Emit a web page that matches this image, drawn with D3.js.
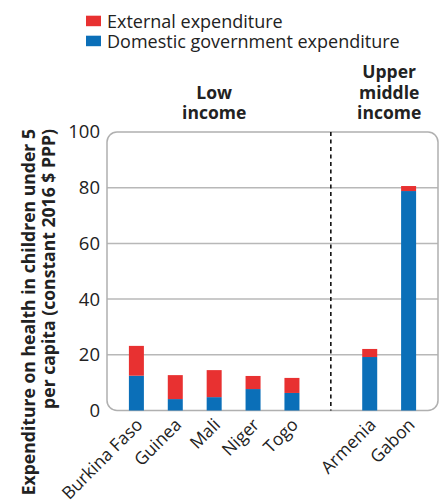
<!DOCTYPE html>
<html>
<head>
<meta charset="utf-8">
<script src="https://cdn.jsdelivr.net/npm/d3@7"></script>
<style>
  body { margin: 0; background: #fff; }
  svg text { font-family: "Open Sans", "Lato", sans-serif; fill: #222; }
</style>
</head>
<body>
<svg id="chart" width="445" height="500"></svg>
<script>
// data
var countries = ["Burkina Faso", "Guinea", "Mali", "Niger", "Togo", "", "Armenia", "Gabon"];
var domestic = [12.5, 4.1, 4.8, 7.7, 6.3, null, 19.2, 78.8];
var external = [10.7, 8.6, 9.7, 4.7, 5.4, null, 2.9, 1.8];
var yTicks = [0, 20, 40, 60, 80, 100];
var groupLabels = [["Low", "income"], ["Upper", "middle", "income"]];

var red = "#e83131";
var blue = "#0b6fb8";

var svg = d3.select("#chart");
var plotL = 107, plotR = 438, plotT = 132, plotB = 410.5;

var x = d3.scalePoint()
  .domain(countries.map(function(d) { return d === "" ? "_gap" : d; }))
  .range([plotL, plotR])
  .padding(0.756);

var y = d3.scaleLinear().domain([0, 100]).range([plotB, plotT]);

// grid lines
svg.append("g").selectAll("line")
  .data(yTicks.filter(function(t) { return t > 0 && t < 100; }))
  .enter().append("line")
  .attr("x1", plotL).attr("x2", plotR)
  .attr("y1", function(d) { return y(d); })
  .attr("y2", function(d) { return y(d); })
  .attr("stroke", "#b8b8b8")
  .attr("stroke-width", 1.5);

// frame with rounded corners
svg.append("rect")
  .attr("x", plotL).attr("y", plotT)
  .attr("width", plotR - plotL).attr("height", plotB - plotT)
  .attr("rx", 10).attr("ry", 10)
  .attr("fill", "none")
  .attr("stroke", "#b0b0b0")
  .attr("stroke-width", 1.5);

// y tick labels
svg.append("g").selectAll("text")
  .data(yTicks)
  .enter().append("text")
  .attr("x", plotL - 7)
  .attr("y", function(d) { return y(d); })
  .attr("dy", "0.35em")
  .attr("text-anchor", "end")
  .style("font-size", "18.5px")
  .text(function(d) { return d; });

// bars
var rows = countries.map(function(c, i) {
  return { name: c, dom: domestic[i], ext: external[i] };
}).filter(function(d) { return d.name !== ""; });

var bw = 15;
var bars = svg.append("g").selectAll("g")
  .data(rows)
  .enter().append("g");

bars.append("rect")
  .attr("x", function(d) { return x(d.name) - bw / 2; })
  .attr("width", bw)
  .attr("y", function(d) { return y(d.dom); })
  .attr("height", function(d) { return y(0) - y(d.dom); })
  .attr("fill", blue);

bars.append("rect")
  .attr("x", function(d) { return x(d.name) - bw / 2; })
  .attr("width", bw)
  .attr("y", function(d) { return y(d.dom + d.ext); })
  .attr("height", function(d) { return y(d.dom) - y(d.dom + d.ext); })
  .attr("fill", red);

// dashed separator
svg.append("line")
  .attr("x1", x("_gap")).attr("x2", x("_gap"))
  .attr("y1", plotT).attr("y2", plotB)
  .attr("stroke", "#111")
  .attr("stroke-width", 1.6)
  .attr("stroke-dasharray", "4,3.5");

// x labels
svg.append("g").selectAll("text")
  .data(rows)
  .enter().append("text")
  .attr("transform", function(d) { return "translate(" + (x(d.name) + 3) + "," + (plotB + 11) + ") rotate(-45)"; })
  .attr("text-anchor", "end")
  .attr("dy", "0.35em")
  .style("font-size", "17.5px")
  .text(function(d) { return d.name; });

// group labels
var gx = [x("Mali"), (x("Armenia") + x("Gabon")) / 2];
groupLabels.forEach(function(lines, i) {
  var n = lines.length;
  lines.forEach(function(line, j) {
    svg.append("text")
      .attr("text-anchor", "middle")
      .attr("x", gx[i])
      .attr("y", 119 - (n - 1 - j) * 20.5)
      .style("font-size", "17.5px")
      .style("font-weight", "bold")
      .text(line);
  });
});

// y axis title
var yTitle = ["Expenditure on health in children under 5", "per capita (constant 2016 $ PPP)"];
yTitle.forEach(function(line, i) {
  svg.append("text")
    .attr("transform", "translate(" + (34.5 + i * 20) + ",129) rotate(-90)")
    .attr("text-anchor", "end")
    .style("font-size", "17.6px")
    .style("font-weight", "bold")
    .text(line);
});

// legend
var legend = [
  { name: "External expenditure", color: red },
  { name: "Domestic government expenditure", color: blue }
];
var lg = svg.append("g").selectAll("g")
  .data(legend)
  .enter().append("g")
  .attr("transform", function(d, i) { return "translate(86," + (15.7 + i * 20) + ")"; });
lg.append("rect").attr("width", 15).attr("height", 10.5).attr("fill", function(d) { return d.color; });
lg.append("text")
  .attr("x", 21).attr("y", 12)
  .style("font-size", "18px")
  .text(function(d) { return d.name; });
</script>
</body>
</html>
